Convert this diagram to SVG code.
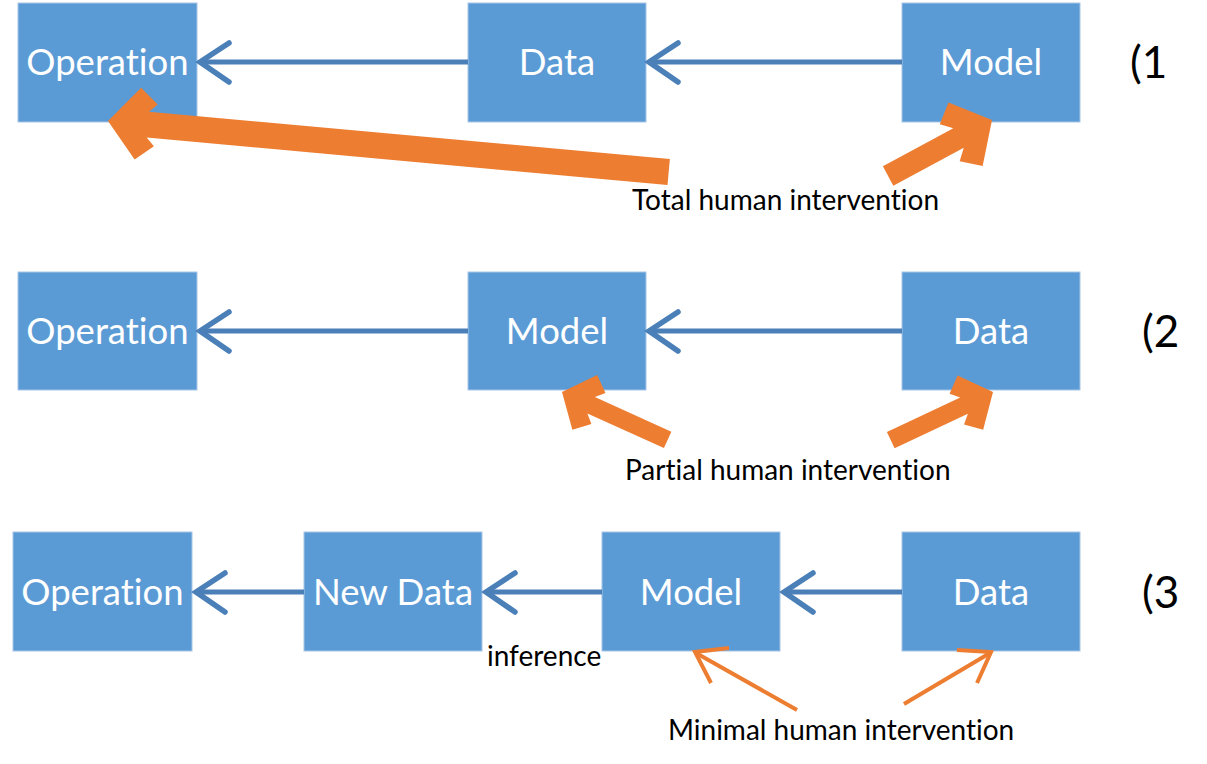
<svg xmlns="http://www.w3.org/2000/svg" width="1207" height="764" viewBox="0 0 1207 764">
<style>
text{font-variant-ligatures:none}
.box{fill:#5b9bd5;stroke:#a8c5e8;stroke-width:1}
.bt{font-family:Lato,"Open Sans","Liberation Sans",sans-serif;font-size:36.5px;fill:#ffffff;text-anchor:middle}
.lb{font-family:Lato,"Open Sans","Liberation Sans",sans-serif;font-size:28px;fill:#000000}
.num{font-family:Lato,"Open Sans","Liberation Sans",sans-serif;font-size:44px;fill:#000000}
.bl{stroke:#4a7fb8;stroke-width:5;fill:none}
.bh{stroke:#4a7fb8;stroke-width:5.5;fill:none;stroke-linecap:round;stroke-linejoin:miter}
.ob{fill:#ed7d31}
.ot{stroke:#ed7d31;stroke-width:4;fill:none;stroke-linecap:butt}
</style>
<rect width="1207" height="764" fill="#ffffff"/>
<g id="r1-operation"><rect class="box" x="18" y="3" width="179" height="119"/><text class="bt" x="107.5" y="75">Operation</text></g>
<g id="r1-data"><rect class="box" x="468" y="3" width="178" height="119"/><text class="bt" x="557" y="75">Data</text></g>
<g id="r1-model"><rect class="box" x="902" y="3" width="178" height="119"/><text class="bt" x="991" y="75">Model</text></g>
<g id="r2-operation"><rect class="box" x="18" y="272" width="179" height="118"/><text class="bt" x="107.5" y="344">Operation</text></g>
<g id="r2-model"><rect class="box" x="468" y="272" width="178" height="118"/><text class="bt" x="557" y="344">Model</text></g>
<g id="r2-data"><rect class="box" x="902" y="272" width="178" height="118"/><text class="bt" x="991" y="344">Data</text></g>
<g id="r3-operation"><rect class="box" x="13" y="532" width="179" height="119"/><text class="bt" x="102.5" y="605">Operation</text></g>
<g id="r3-newdata"><rect class="box" x="304" y="532" width="178" height="119"/><text class="bt" x="393" y="605">New Data</text></g>
<g id="r3-model"><rect class="box" x="602" y="532" width="178" height="119"/><text class="bt" x="691" y="605">Model</text></g>
<g id="r3-data"><rect class="box" x="902" y="532" width="178" height="119"/><text class="bt" x="991" y="605">Data</text></g>
<g id="connectors">
<line class="bl" x1="468" y1="62" x2="201" y2="62"/><polyline class="bh" points="229,43 200,62 229,82"/>
<line class="bl" x1="902" y1="62" x2="650" y2="62"/><polyline class="bh" points="678,43 649,62 678,82"/>
<line class="bl" x1="468" y1="331" x2="201" y2="331"/><polyline class="bh" points="229,312 200,331 229,351"/>
<line class="bl" x1="902" y1="331" x2="650" y2="331"/><polyline class="bh" points="678,312 649,331 678,351"/>
<line class="bl" x1="304" y1="592" x2="197" y2="592"/><polyline class="bh" points="225,573 196,592 225,612"/>
<line class="bl" x1="602" y1="592" x2="487" y2="592"/><polyline class="bh" points="515,573 486,592 515,612"/>
<line class="bl" x1="902" y1="592" x2="785" y2="592"/><polyline class="bh" points="813,573 784,592 813,612"/>
<polygon class="ob" transform="translate(108,121) rotate(185.2)" points="0,0 -30,-36 -48,-21 -40,-13 -563,-13 -563,13 -40,13 -48,21 -30,36"/>
<polygon class="ob" transform="translate(992,120) rotate(-28.3)" points="0,0 -30,-36 -48,-21 -38,-11 -118,-11 -118,11 -38,11 -48,21 -30,36"/>
<polygon class="ob" transform="translate(562,392) rotate(204.4)" points="0,0 -25,-30 -40,-17 -32,-9 -116,-9 -116,9 -32,9 -40,17 -25,30"/>
<polygon class="ob" transform="translate(993,392) rotate(-25.2)" points="0,0 -25,-30 -40,-17 -32,-9 -113,-9 -113,9 -32,9 -40,17 -25,30"/>
<line class="ot" x1="797" y1="710" x2="696" y2="653"/><polyline class="ot" points="729,648 695,652 711,683"/>
<line class="ot" x1="904" y1="704" x2="990" y2="653"/><polyline class="ot" points="957,650 991,652 977,683"/>
</g>
<text class="lb" x="632" y="210">Total human intervention</text>
<text class="lb" x="625" y="480">Partial human intervention</text>
<text class="lb" x="487" y="666">inference</text>
<text class="lb" x="668" y="740">Minimal human intervention</text>
<text class="num" x="1130" y="78">(1</text>
<text class="num" x="1142" y="347">(2</text>
<text class="num" x="1142" y="608">(3</text>
</svg>
